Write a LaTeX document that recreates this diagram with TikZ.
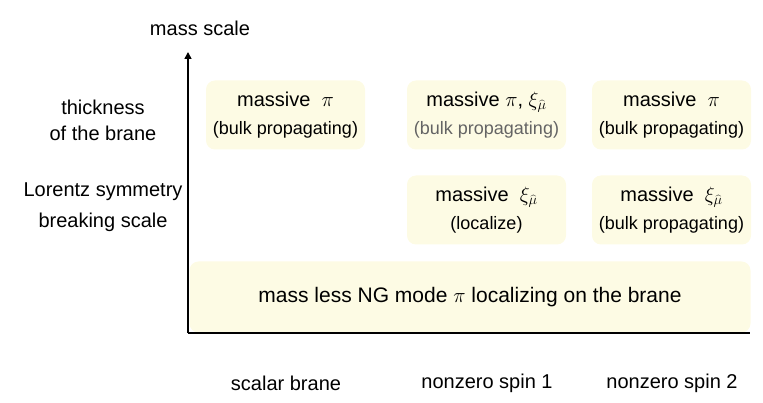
\documentclass[tikz,border=0pt]{standalone}
\usepackage{fontspec}
\setmainfont{Liberation Sans}
\usetikzlibrary{arrows.meta}
\definecolor{boxfill}{RGB}{253,251,228}
\definecolor{subgrey}{RGB}{100,100,100}
\tikzset{
  cell/.style={fill=boxfill, rounded corners=9pt, minimum width=159pt, minimum height=69pt, align=center, inner sep=0pt, font=\fontsize{20}{28}\selectfont},
  lbl/.style={font=\fontsize{20}{24}\selectfont, align=center},
}
\newcommand{\smltxt}[1]{{\fontsize{18}{28}\selectfont #1}}
\begin{document}
\begin{tikzpicture}[x=1pt,y=-1pt]
\useasboundingbox (0,0) rectangle (763,403);
\node[cell] (a1) at (285.5,115) {massive~ $\pi$\\\smltxt{(bulk propagating)}};
\node[cell] (a2) at (486.5,115) {massive $\pi$, $\xi_{\widehat{\mu}}$\\\textcolor{subgrey}{\smltxt{(bulk propagating)}}};
\node[cell] (a3) at (671.5,115) {massive~ $\pi$\\\smltxt{(bulk propagating)}};
\node[cell] (b2) at (486.5,210) {massive~ $\xi_{\widehat{\mu}}$\\\smltxt{(localize)}};
\node[cell] (b3) at (671.5,210) {massive~ $\xi_{\widehat{\mu}}$\\\smltxt{(bulk propagating)}};
\node[cell, minimum width=561pt, minimum height=71pt, font=\fontsize{21}{28}\selectfont] (c) at (470,297) {mass less NG mode $\pi$ localizing on the brane};
\coordinate (o) at (188,333);
\coordinate (ytop) at (188,52);
\coordinate (xend) at (750,333);
\draw[line width=1.6pt, -{Triangle[length=7pt,width=7pt]}] (o) -- (ytop);
\draw[line width=1.6pt] (o) -- (xend);
\node[lbl] (ms) at (200,28) {mass scale};
\node[lbl] (t1) at (103,107) {thickness};
\node[lbl] (t2) at (103,133) {of the brane};
\node[lbl] (l1) at (103,192) {Lorentz symmetry};
\node[lbl] (l2) at (103,222) {breaking scale};
\node[lbl] (x1) at (286,383) {scalar brane};
\node[lbl] (x2) at (487,383) {nonzero spin 1};
\node[lbl] (x3) at (672,383) {nonzero spin 2};
\end{tikzpicture}
\end{document}
